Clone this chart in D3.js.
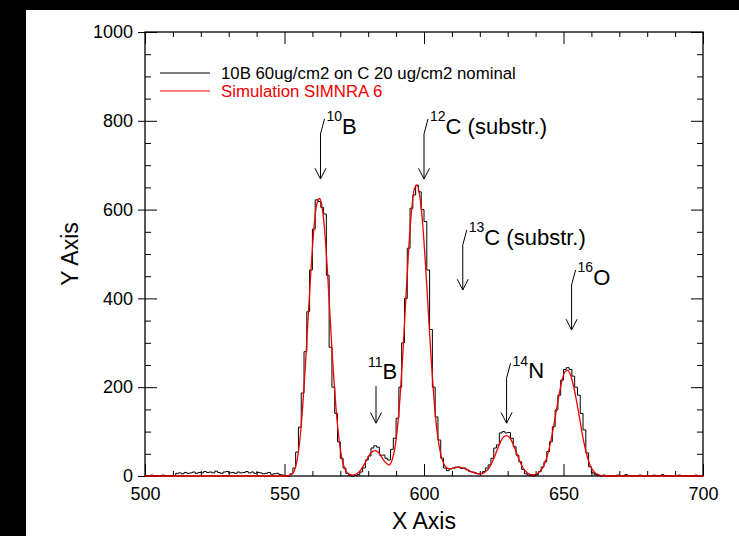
<!DOCTYPE html>
<html>
<head>
<meta charset="utf-8">
<script src="https://cdn.jsdelivr.net/npm/d3@7/dist/d3.min.js"></script>
<style>
  html, body { margin: 0; padding: 0; background: #fff; }
  svg { display: block; }
  text { font-family: "Liberation Sans", Arial, Helvetica, sans-serif; }
</style>
</head>
<body>
<svg id="chart" width="739" height="536"></svg>
<script>
// ---------------- DATA ----------------
const firstChannel = 500;
// measured spectrum (counts per channel, channels 500..699)
const measured = [
  1,0,2,1,0,1,2,0,1,1,
  1,6,7,5,8,6,7,9,6,8,
  7,10,8,9,7,11,8,6,9,10,
  7,8,6,9,7,8,10,7,9,6,
  8,7,5,6,8,4,5,6,3,2,
  1,0,5,18,54,110,187,280,370,464,
  556,622,618,605,590,452,290,200,141,77,
  40,18,6,1,0,1,3,9,18,36,
  45,63,68,65,47,47,40,36,60,85,
  130,200,300,400,513,603,633,655,640,600,
  573,464,330,200,133,81,40,18,12,16,
  18,20,20,17,18,14,10,9,7,5,
  6,10,18,25,40,63,70,97,100,97,
  98,85,66,47,32,15,5,2,1,0,
  3,10,20,32,55,77,111,149,182,216,
  240,244,240,225,200,182,141,104,52,21,
  7,3,1,0,2,1,0,1,0,2,
  1,0,3,1,0,1,0,2,0,0,
  1,0,2,0,1,3,0,1,0,0,
  1,2,0,1,0,1,0,2,0,0
];
// SIMNRA simulation (channels 500..699)
const simulated = [
  0,0,0,0,0,0,0,0,0,0,
  0,0,0,0,0,0,0,0,0,0,
  0,0,0,0,0,0,0,0,0,0,
  0,0,0,0,0,0,0,0,0,0,
  0,0,0,0,0,0,0,0,0,0,
  0,1,4,12,35,80,155,250,360,465,
  555,610,625,605,545,450,340,235,150,85,
  42,18,7,3,2,4,8,15,25,37,
  48,55,57,54,46,36,29,25,35,60,
  110,185,285,400,510,595,645,655,630,570,
  480,375,270,180,110,65,37,23,17,16,
  17,19,20,19,17,14,11,8,6,5,
  5,7,12,20,32,47,63,78,88,91,
  88,78,63,46,31,18,10,5,3,3,
  5,10,18,32,52,80,113,150,186,216,
  235,238,228,205,175,140,103,70,44,25,
  13,6,3,1,0,0,0,0,0,0,
  0,0,0,0,0,0,0,0,0,0,
  0,0,0,0,0,0,0,0,0,0,
  0,0,0,0,0,0,0,0,0,0
];
const xMajorTicks = [500, 550, 600, 650, 700];
const xMinorTicks = [510,520,530,540,560,570,580,590,610,620,630,640,660,670,680,690];
const yMajorTicks = [0, 200, 400, 600, 800, 1000];
const yMinorTicks = [50,100,150,250,300,350,450,500,550,650,700,750,850,900,950];
const seriesNames = ["10B 60ug/cm2 on C 20 ug/cm2 nominal", "Simulation SIMNRA 6"];
const xTitle = "X Axis";
const yTitle = "Y Axis";
// peak annotations: isotope mass, element, extra text, channel, count at arrow tip
const annIso    = ["10", "12", "13", "16", "11", "14"];
const annEl     = ["B", "C", "C", "O", "B", "N"];
const annSuffix = ["", " (substr.)", " (substr.)", "", "", ""];
const annX      = [562.9, 600.0, 613.9, 652.9, 582.8, 629.6];
const annTip    = [669, 669, 419, 329, 119, 119];
const annSlant  = [true, true, true, true, false, true];

// ---------------- CHART ----------------
const svg = d3.select("#chart");
const L = 145, R = 703, T = 32, B = 476;
const x = d3.scaleLinear().domain([500, 700]).range([L, R]);
const y = d3.scaleLinear().domain([0, 1000]).range([B, T]);

// dark borders of the screenshot
svg.append("rect").attr("x", 0).attr("y", 0).attr("width", 739).attr("height", 536).attr("fill", "#fff");
svg.append("rect").attr("x", 0).attr("y", 0).attr("width", 739).attr("height", 10).attr("fill", "#000");
svg.append("rect").attr("x", 0).attr("y", 0).attr("width", 26).attr("height", 536).attr("fill", "#000");

function styleAxis(g, size) {
  g.select(".domain").remove();
  g.selectAll("line").attr("stroke", "#000").attr("stroke-width", 1);
  g.selectAll("text").attr("font-size", size).attr("fill", "#000")
    .attr("font-family", "'Liberation Sans', Arial, Helvetica, sans-serif");
}

// bottom axis
svg.append("g").attr("transform", `translate(0,${B})`)
  .call(d3.axisBottom(x).tickValues(xMajorTicks).tickSizeInner(-12).tickSizeOuter(0).tickPadding(11).tickFormat(d3.format("d")))
  .call(g => styleAxis(g, 18));
svg.append("g").attr("transform", `translate(0,${B})`)
  .call(d3.axisBottom(x).tickValues(xMinorTicks).tickSizeInner(-5).tickSizeOuter(0).tickFormat(""))
  .call(g => styleAxis(g, 18));
// top axis
svg.append("g").attr("transform", `translate(0,${T})`)
  .call(d3.axisTop(x).tickValues(xMajorTicks).tickSizeInner(-12).tickSizeOuter(0).tickFormat(""))
  .call(g => styleAxis(g, 18));
svg.append("g").attr("transform", `translate(0,${T})`)
  .call(d3.axisTop(x).tickValues(xMinorTicks).tickSizeInner(-5).tickSizeOuter(0).tickFormat(""))
  .call(g => styleAxis(g, 18));
// left axis
svg.append("g").attr("transform", `translate(${L},0)`)
  .call(d3.axisLeft(y).tickValues(yMajorTicks).tickSizeInner(7).tickSizeOuter(0).tickPadding(5).tickFormat(d3.format("d")))
  .call(g => styleAxis(g, 18));
svg.append("g").attr("transform", `translate(${L},0)`)
  .call(d3.axisLeft(y).tickValues(yMajorTicks).tickSizeInner(-12).tickSizeOuter(0).tickFormat(""))
  .call(g => styleAxis(g, 18));
svg.append("g").attr("transform", `translate(${L},0)`)
  .call(d3.axisLeft(y).tickValues(yMinorTicks).tickSizeInner(-6).tickSizeOuter(0).tickFormat(""))
  .call(g => styleAxis(g, 18));
// right axis
svg.append("g").attr("transform", `translate(${R},0)`)
  .call(d3.axisRight(y).tickValues(yMajorTicks).tickSizeInner(-12).tickSizeOuter(0).tickFormat(""))
  .call(g => styleAxis(g, 18));
svg.append("g").attr("transform", `translate(${R},0)`)
  .call(d3.axisRight(y).tickValues(yMinorTicks).tickSizeInner(-6).tickSizeOuter(0).tickFormat(""))
  .call(g => styleAxis(g, 18));

// frame
svg.append("rect").attr("x", L).attr("y", T).attr("width", R - L).attr("height", B - T)
  .attr("fill", "none").attr("stroke", "#000").attr("stroke-width", 1.3);

// axis titles
svg.append("text").attr("x", (L + R) / 2).attr("y", 529).attr("text-anchor", "middle")
  .attr("font-size", 23).text(xTitle);
svg.append("text").attr("transform", `translate(78,${(T + B) / 2}) rotate(-90)`).attr("text-anchor", "middle")
  .attr("font-size", 23).text(yTitle);

// measured histogram (step)
const measuredPts = measured.map((v, i) => [firstChannel + i, v]);
measuredPts.push([firstChannel + measured.length, measured[measured.length - 1]]);
svg.append("path").datum(measuredPts)
  .attr("fill", "none").attr("stroke", "#000").attr("stroke-width", 1)
  .attr("d", d3.line().x(d => x(d[0])).y(d => y(d[1])).curve(d3.curveStepAfter));

// simulation (smooth)
const simPts = simulated.map((v, i) => [firstChannel + i + 0.5, v]);
simPts.unshift([firstChannel, 0]);
simPts.push([700, 0]);
svg.append("path").datum(simPts)
  .attr("fill", "none").attr("stroke", "#f00000").attr("stroke-width", 1.3)
  .attr("d", d3.line().x(d => x(d[0])).y(d => y(d[1])).curve(d3.curveMonotoneX));

// legend
const legColors = ["#000", "#f00000"];
seriesNames.forEach((name, i) => {
  const ly = 73 + i * 18;
  svg.append("line").attr("x1", 160).attr("x2", 210).attr("y1", ly).attr("y2", ly)
    .attr("stroke", legColors[i]).attr("stroke-width", 1.2);
  svg.append("text").attr("x", 221).attr("y", ly + 5.5).attr("font-size", 16.8)
    .attr("fill", legColors[i]).text(name);
});

// annotations
annIso.forEach((iso, i) => {
  const X = x(annX[i]), Y = y(annTip[i]);
  const g = svg.append("g").attr("stroke", "#000").attr("stroke-width", 1).attr("fill", "none");
  const shaft = annSlant[i] ? 45 : 37;
  g.append("line").attr("x1", X).attr("x2", X).attr("y1", Y - shaft).attr("y2", Y);
  g.append("polyline").attr("points", `${X - 5.5},${Y - 10.7} ${X},${Y} ${X + 5.5},${Y - 10.7}`);
  let tx, ty;
  if (annSlant[i]) {
    g.append("line").attr("x1", X).attr("y1", Y - shaft).attr("x2", X + 4).attr("y2", Y - shaft - 15);
    tx = X + 6; ty = Y - 45;
  } else {
    tx = X - 8; ty = Y - 44;
  }
  const t = svg.append("text").attr("x", tx).attr("y", ty).attr("font-size", 22).attr("fill", "#000");
  t.append("tspan").attr("font-size", 14).attr("dy", -12.5).text(iso);
  t.append("tspan").attr("dy", 12.5).text(annEl[i] + annSuffix[i]);
});
</script>
</body>
</html>
